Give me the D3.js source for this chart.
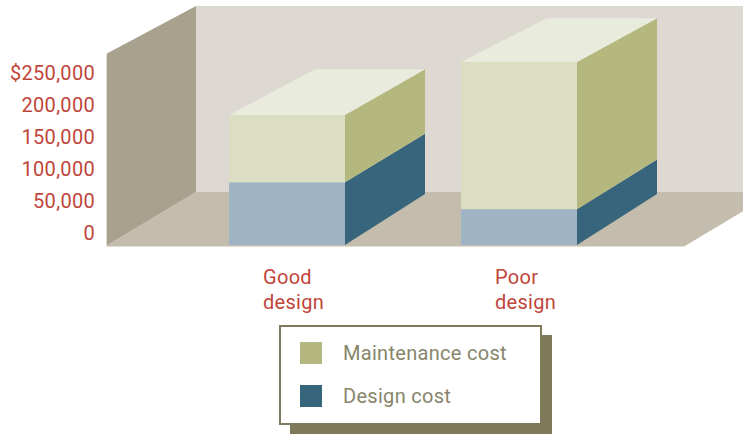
<!DOCTYPE html>
<html>
<head>
<meta charset="utf-8">
<script src="https://cdn.jsdelivr.net/npm/d3@7"></script>
<style>
  body { margin: 0; background: #fff; }
  text { font-family: Roboto, "DejaVu Sans", sans-serif; font-size: 20px; letter-spacing: 0.3px; }
</style>
</head>
<body>
<div id="chart"></div>
<script>
var categories = ["Good design", "Poor design"],
    designCost = [98000, 56000],
    maintenanceCost = [105000, 230000],
    yTicks = [0, 50000, 100000, 150000, 200000, 250000],
    seriesNames = ["Design cost", "Maintenance cost"];

var width = 743,
    height = 434;

var svg = d3.select("#chart").append("svg")
  .attr("width", width)
  .attr("height", height);

var x = d3.scaleBand()
  .domain(categories)
  .range([113, 693])
  .paddingInner(0.5)
  .paddingOuter(0.5);

var y = d3.scaleLinear()
  .domain([0, 250000])
  .range([245, 85]);

// room: back wall, side wall, floor
var line = d3.line();
svg.append("path").attr("fill", "#ddd9d2")
  .attr("d", line([[196, 6], [743, 6], [743, 192], [196, 192]]) + "Z");
svg.append("path").attr("fill", "#c4bdae")
  .attr("d", line([[106, 246], [196, 192], [775, 192], [685, 246]]) + "Z");
svg.append("path").attr("fill", "#a8a18d")
  .attr("d", line([[106, 54], [196, 6], [196, 192], [106, 246]]) + "Z");
svg.append("path").attr("fill", "none").attr("stroke", "#e4e0d6").attr("stroke-width", 1)
  .attr("d", line([[106.5, 54], [106.5, 246.5], [685, 246.5]]));

// stacked bars in fake 3d
var rows = categories.map(function(c, i) {
  return { cat: c, "Design cost": designCost[i], "Maintenance cost": maintenanceCost[i] };
});
var stack = d3.stack().keys(seriesNames)(rows);

var colors = {
  "Design cost": { front: "#9fb5c5", side: "#37667c" },
  "Maintenance cost": { front: "#dcdec3", side: "#b5b87e", top: "#e9ebdd" }
};

var dxL = 86, dxR = 80;
function dyAt(py) { return -51 + (245 - py) * 0.04; }

var bars = svg.append("g");
stack.forEach(function(layer, li) {
  layer.forEach(function(d) {
    var x0 = x(d.data.cat), x1 = x0 + x.bandwidth(),
        yb = y(d[0]), yt = y(d[1]),
        c = colors[layer.key];
    bars.append("rect")
      .attr("x", x0).attr("y", yt)
      .attr("width", x1 - x0).attr("height", yb - yt)
      .attr("fill", c.front);
    bars.append("path").attr("fill", c.side)
      .attr("d", line([[x1, yt], [x1 + dxR, yt + dyAt(yt)], [x1 + dxR, yb + dyAt(yb)], [x1, yb]]) + "Z");
    if (li === stack.length - 1) {
      bars.append("path").attr("fill", c.top)
        .attr("d", line([[x0, yt], [x0 + dxL, yt + dyAt(yt)], [x1 + dxR, yt + dyAt(yt)], [x1, yt]]) + "Z");
    }
  });
});

// y tick labels
var fmt = d3.format(",");
svg.append("g").selectAll("text")
  .data(yTicks)
  .join("text")
  .attr("x", 95)
  .attr("y", function(d) { return y(d) - 12; })
  .attr("dy", "0.35em")
  .attr("text-anchor", "end")
  .attr("fill", "#c0453a")
  .text(function(d) { return (d === 250000 ? "$" : "") + fmt(d); });

// category labels
var catLabels = svg.append("g").selectAll("text")
  .data(categories)
  .join("text")
  .attr("x", function(d) { return x(d) + 34; })
  .attr("y", 284)
  .attr("fill", "#c0453a");
catLabels.selectAll("tspan")
  .data(function(d) { return d.split(" "); })
  .join("tspan")
  .attr("x", function() { return d3.select(this.parentNode).attr("x"); })
  .attr("dy", function(d, i) { return i ? 25 : 0; })
  .text(function(d) { return d; });

// legend
var legend = svg.append("g").attr("transform", "translate(280,326)");
legend.append("rect")
  .attr("x", 10).attr("y", 9).attr("width", 262).attr("height", 99)
  .attr("fill", "#7e7a5a");
legend.append("rect")
  .attr("x", 0).attr("y", 0).attr("width", 261).attr("height", 98)
  .attr("fill", "#fff").attr("stroke", "#7e7a5a").attr("stroke-width", 2);

var legendItems = ["Maintenance cost", "Design cost"];
var li = legend.selectAll("g.item")
  .data(legendItems)
  .join("g")
  .attr("class", "item")
  .attr("transform", function(d, i) { return "translate(20," + (16 + i * 43) + ")"; });
li.append("rect")
  .attr("width", 22).attr("height", 22)
  .attr("fill", function(d) { return colors[d].side; });
li.append("text")
  .attr("x", 43).attr("y", 11).attr("dy", "0.35em")
  .attr("fill", "#87856b")
  .text(function(d) { return d; });
</script>
</body>
</html>
